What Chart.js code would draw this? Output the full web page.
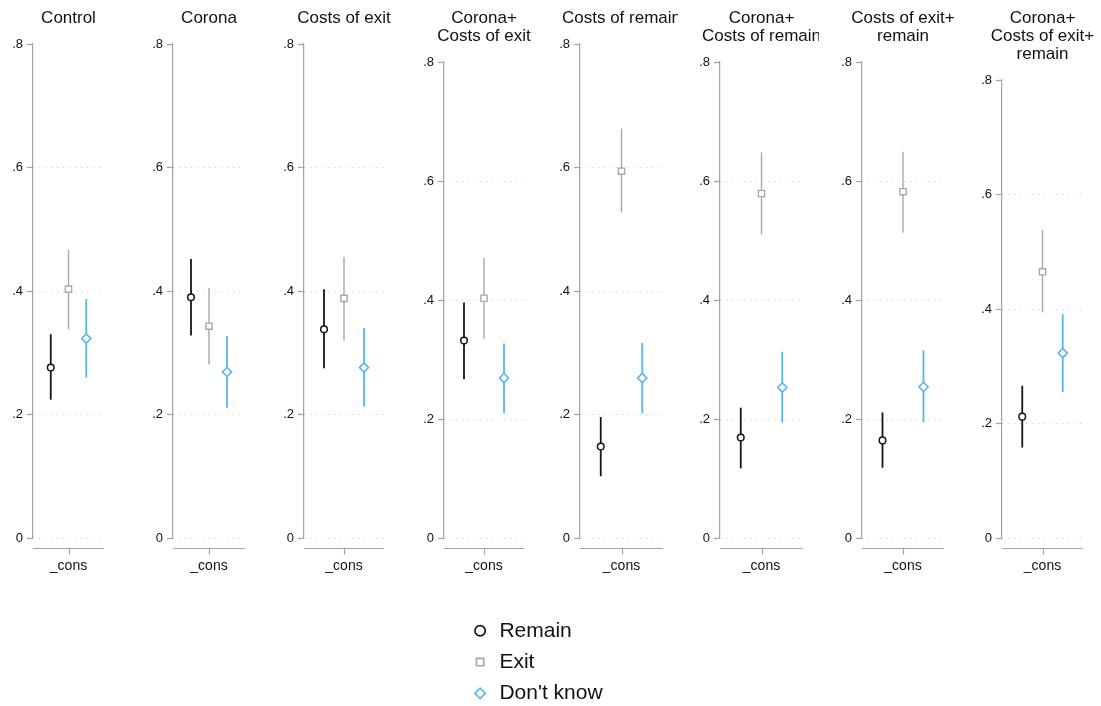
<!DOCTYPE html>
<html lang="en">
<head>
<meta charset="UTF-8">
<title>Remain / Exit / Don't know by treatment</title>
<script src="https://cdn.jsdelivr.net/npm/chart.js"></script>
<style>
  body {
    margin: 0;
    background: #fff;
    width: 1101px;
    height: 706px;
    overflow: hidden;
    position: relative;
  }
  .panel { position: absolute; top: 0; overflow: hidden; }
  #legendBox { position: absolute; left: 461px; top: 610px; }
</style>
</head>
<body>
<div id="panels"></div>
<div id="legendBox"><canvas id="legend" width="360" height="120"></canvas></div>

<script>
// treatment groups, one panel each
const panelTitles = [
    ['Control'],
    ['Corona'],
    ['Costs of exit'],
    ['Corona+', 'Costs of exit'],
    ['Costs of remain'],
    ['Corona+', 'Costs of remain'],
    ['Costs of exit+', 'remain'],
    ['Corona+', 'Costs of exit+', 'remain']
];

// estimates and 95% CI bounds, per panel
const remainEst = [0.276, 0.390, 0.338, 0.332, 0.148, 0.169, 0.164, 0.212];
const remainLo  = [0.224, 0.328, 0.275, 0.267, 0.100, 0.117, 0.118, 0.158];
const remainHi  = [0.330, 0.452, 0.403, 0.396, 0.196, 0.219, 0.211, 0.266];

const exitEst = [0.403, 0.343, 0.388, 0.403, 0.594, 0.579, 0.582, 0.465];
const exitLo  = [0.338, 0.281, 0.320, 0.335, 0.527, 0.510, 0.513, 0.394];
const exitHi  = [0.467, 0.405, 0.455, 0.471, 0.663, 0.648, 0.649, 0.538];

const dkEst = [0.323, 0.269, 0.276, 0.269, 0.259, 0.253, 0.254, 0.323];
const dkLo  = [0.260, 0.211, 0.213, 0.210, 0.202, 0.194, 0.194, 0.255];
const dkHi  = [0.387, 0.327, 0.340, 0.327, 0.316, 0.313, 0.315, 0.391];

const seriesNames = ['Remain', 'Exit', "Don't know"];
const seriesOffsets = [-0.25, 0, 0.25];

const yTickValues = [0, 0.2, 0.4, 0.6, 0.8];
const yTickLabels = ['0', '.2', '.4', '.6', '.8'];
const xTickLabel = '_cons';

// panel placement (px)
const plotLeft  = [33, 173, 304, 444, 580, 720, 862, 1002];
const plotWidth = [71, 72, 80, 80, 83, 83, 82, 81];
const clipRight = [null, null, null, null, 678, 819, null, null];

const FONT = "'Liberation Sans', Arial, Helvetica, sans-serif";
const AXIS_GRAY = '#a3a3a3';
Chart.defaults.font.family = FONT;
Chart.defaults.color = '#111';

const seriesStyle = [
    { color: '#161616', pointStyle: 'circle',  radius: 3.3, border: 1.5, line: 1.8 },
    { color: '#a8a8a8', pointStyle: 'rect',    radius: 4.4, border: 1.4, line: 1.4 },
    { color: '#57b6ec', pointStyle: 'rectRot', radius: 4.6, border: 1.6, line: 1.8 }
];
const estimates = [remainEst, exitEst, dkEst];
const lows = [remainLo, exitLo, dkLo];
const highs = [remainHi, exitHi, dkHi];

// Stata style x axis: detached line a bit below zero
const xAxisLine = {
    id: 'xAxisLine',
    afterDraw(chart) {
        const { ctx, chartArea, scales: { x } } = chart;
        const yLine = Math.round(chartArea.bottom + 10) + 0.5;
        const t = Math.round(x.getPixelForValue(0)) + 0.5;
        ctx.save();
        ctx.strokeStyle = AXIS_GRAY;
        ctx.lineWidth = 1.2;
        ctx.beginPath();
        ctx.moveTo(x.left, yLine);
        ctx.lineTo(x.right, yLine);
        ctx.moveTo(t, yLine);
        ctx.lineTo(t, yLine + 6);
        ctx.stroke();
        ctx.restore();
    }
};

const holder = document.getElementById('panels');

panelTitles.forEach((title, i) => {
    const left = plotLeft[i] - 33;
    const w = plotWidth[i] + 66;
    const wrap = document.createElement('div');
    wrap.className = 'panel';
    wrap.style.left = left + 'px';
    wrap.style.width = (clipRight[i] ? clipRight[i] - left : w) + 'px';
    wrap.style.height = '578px';
    const canvas = document.createElement('canvas');
    canvas.width = w;
    canvas.height = 578;
    wrap.appendChild(canvas);
    holder.appendChild(wrap);

    const datasets = [];
    seriesNames.forEach((name, s) => {
        const st = seriesStyle[s];
        datasets.push({
            label: name,
            data: [{ x: seriesOffsets[s], y: estimates[s][i] }],
            pointStyle: st.pointStyle,
            pointRadius: st.radius,
            pointBorderColor: st.color,
            pointBackgroundColor: '#fff',
            pointBorderWidth: st.border,
            order: 0
        });
    });
    seriesNames.forEach((name, s) => {
        const st = seriesStyle[s];
        datasets.push({
            label: name + ' CI',
            data: [{ x: seriesOffsets[s], y: lows[s][i] }, { x: seriesOffsets[s], y: highs[s][i] }],
            showLine: true,
            borderColor: st.color,
            borderWidth: st.line,
            pointRadius: 0,
            order: 1
        });
    });

    new Chart(canvas, {
        type: 'scatter',
        data: { datasets },
        options: {
            responsive: false,
            animation: false,
            layout: { padding: 0 },
            plugins: {
                legend: { display: false },
                tooltip: { enabled: false },
                title: {
                    display: true,
                    text: title,
                    color: '#111',
                    font: { size: 17, weight: 'normal', lineHeight: 18 / 17 },
                    padding: { top: 9, bottom: 17 }
                }
            },
            scales: {
                x: {
                    type: 'linear',
                    min: -0.5,
                    max: 0.5,
                    afterBuildTicks: sc => { sc.ticks = [{ value: 0 }]; },
                    afterFit: sc => { sc.height = 40; },
                    ticks: { callback: () => xTickLabel, padding: 20, color: '#111', font: { size: 14 }, maxRotation: 0 },
                    grid: { display: false, drawTicks: false },
                    border: { display: false }
                },
                y: {
                    min: 0,
                    max: 0.8,
                    afterBuildTicks: sc => { sc.ticks = yTickValues.map(v => ({ value: v })); },
                    afterFit: sc => { sc.width = 33; },
                    ticks: {
                        callback: v => yTickLabels[yTickValues.indexOf(v)],
                        padding: 4,
                        color: '#111',
                        font: { size: 13 }
                    },
                    grid: {
                        color: c => (c.tick && c.tick.value === 0.8) ? 'rgba(0,0,0,0)' : '#c6c6c6',
                        lineWidth: 1,
                        tickColor: AXIS_GRAY,
                        tickLength: 6,
                        tickWidth: 1.2,
                        tickBorderDash: []
                    },
                    border: { display: true, color: AXIS_GRAY, width: 1.2, dash: [1, 5] }
                },
                // empty right-hand spacer so the plot sits centred under its title
                spacer: {
                    type: 'linear',
                    position: 'right',
                    min: 0,
                    max: 0.8,
                    afterFit: sc => { sc.width = 33; },
                    ticks: { display: false },
                    grid: { display: false, drawTicks: false },
                    border: { display: false }
                }
            }
        },
        plugins: [xAxisLine]
    });
});

// legend below the panels
new Chart(document.getElementById('legend'), {
    type: 'scatter',
    data: {
        datasets: seriesNames.map((name, s) => ({
            label: name,
            data: [],
            pointStyle: seriesStyle[s].pointStyle,
            pointBorderColor: seriesStyle[s].color,
            pointBackgroundColor: '#fff',
            pointBorderWidth: 1.7
        }))
    },
    options: {
        responsive: false,
        animation: false,
        layout: { padding: 0 },
        scales: { x: { display: false }, y: { display: false } },
        plugins: {
            tooltip: { enabled: false },
            legend: {
                position: 'left',
                align: 'start',
                labels: {
                    usePointStyle: true,
                    boxWidth: 17.6,
                    boxHeight: 7.3,
                    padding: 10.3,
                    color: '#111',
                    font: { size: 21 }
                }
            }
        }
    }
});
</script>
</body>
</html>
